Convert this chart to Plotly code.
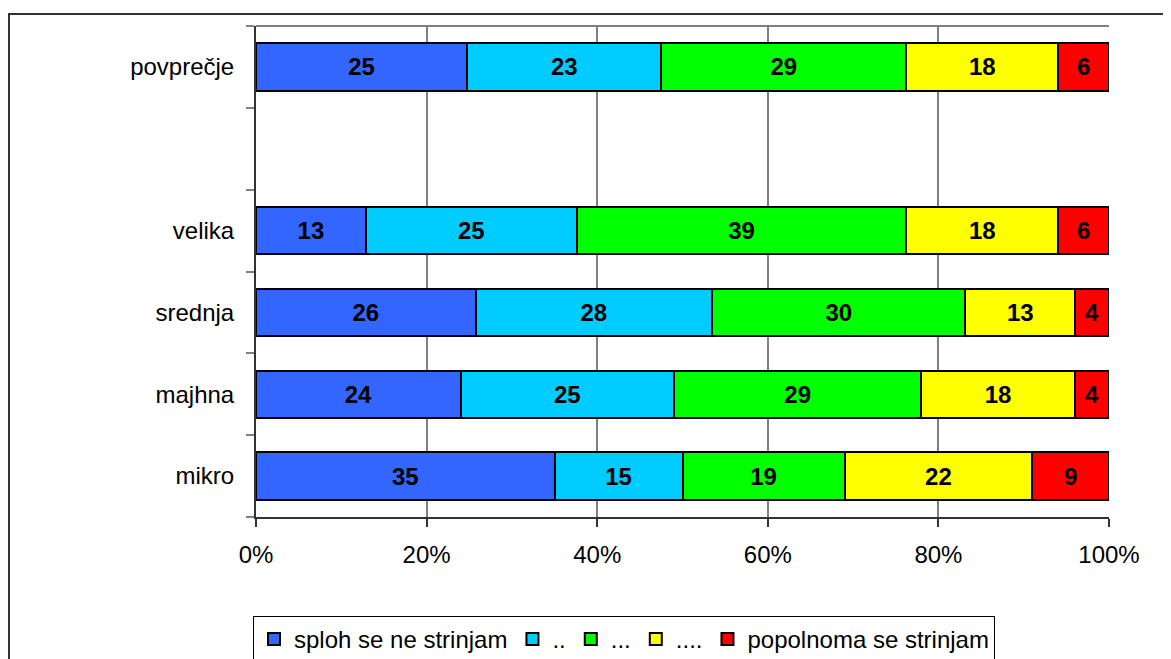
import plotly.graph_objects as go

categories = ["mikro", "majhna", "srednja", "velika", "povprečje"]
series_names = ["sploh se ne strinjam", "..", "...", "....", "popolnoma se strinjam"]
s1 = [35, 24, 26, 13, 25]
s2 = [15, 25, 28, 25, 23]
s3 = [19, 29, 30, 39, 29]
s4 = [22, 18, 13, 18, 18]
s5 = [9, 4, 4, 6, 6]
colors = ["#3366FF", "#00CCFF", "#00FF00", "#FFFF00", "#FF0000"]
category_order = ["mikro", "majhna", "srednja", "velika", " ", "povprečje"]
x_tickvals = [0, 20, 40, 60, 80, 100]
x_ticktext = ["0%", "20%", "40%", "60%", "80%", "100%"]

FONT = "Liberation Sans, Arial, sans-serif"

fig = go.Figure()
for name, vals, col in zip(series_names, [s1, s2, s3, s4, s5], colors):
    fig.add_trace(go.Bar(
        y=categories, x=vals, name=name, orientation="h",
        marker=dict(color=col, line=dict(color="#000000", width=2)),
        text=vals, texttemplate="<b>%{text}</b>",
        textposition="inside", insidetextanchor="middle", textangle=0,
        textfont=dict(family=FONT, size=24, color="#000000"),
        constraintext="none",
    ))

# placeholder for empty category slot
fig.add_trace(go.Scatter(y=[" "], x=[0], mode="markers", marker=dict(opacity=0),
                         showlegend=False, hoverinfo="skip"))

# page offset of 8px (default body margin)
OFF = 8
W, H = 1171 - OFF, 659 - OFF
L = 256 - OFF
T = 26 - OFF
R = W - (1109 - OFF)
B = H - (517 - OFF)
pw, ph = W - L - R, H - T - B

def px_x(p):
    return (p - OFF - L) / pw

def px_y(p):
    return (H - B - (p - OFF)) / ph

fig.update_layout(
    width=W, height=H,
    barmode="stack", barnorm="percent", bargap=0.42,
    margin=dict(l=L, r=R, t=T, b=B, autoexpand=False),
    paper_bgcolor="white", plot_bgcolor="white",
    font=dict(family=FONT, size=24, color="#000000"),
    xaxis=dict(
        range=[0, 100], tickvals=x_tickvals, ticktext=x_ticktext,
        showgrid=True, gridcolor="#808080", gridwidth=1.5,
        showline=True, linecolor="#333333", linewidth=2,
        ticks="outside", ticklen=8, tickcolor="#333333", tickwidth=1.5,
        tickfont=dict(size=24), ticklabelstandoff=7, zeroline=False, fixedrange=True,
    ),
    yaxis=dict(
        type="category", categoryorder="array", categoryarray=category_order,
        range=[-0.5, 5.5], tickson="boundaries",
        showgrid=False, showline=True, linecolor="#333333", linewidth=2,
        ticks="outside", ticklen=8, tickcolor="#808080", tickwidth=1.5,
        tickfont=dict(size=24), ticklabelstandoff=15, fixedrange=True,
    ),
    legend=dict(
        orientation="h", x=px_x(253), y=px_y(616), xanchor="left", yanchor="top",
        bordercolor="#000000", borderwidth=1, bgcolor="white",
        font=dict(size=24), traceorder="normal", itemwidth=30,
    ),
    showlegend=True,
    shapes=[
        # top border of plot area
        dict(type="line", xref="paper", yref="paper", x0=0, x1=1, y0=1, y1=1,
             line=dict(color="#808080", width=2)),
        # outer chart border
        dict(type="rect", xref="paper", yref="paper",
             x0=px_x(9), x1=px_x(1169), y0=px_y(14), y1=px_y(680),
             line=dict(color="#333333", width=2), fillcolor="rgba(0,0,0,0)", layer="below"),
    ],
)

fig.write_html("out.html")
